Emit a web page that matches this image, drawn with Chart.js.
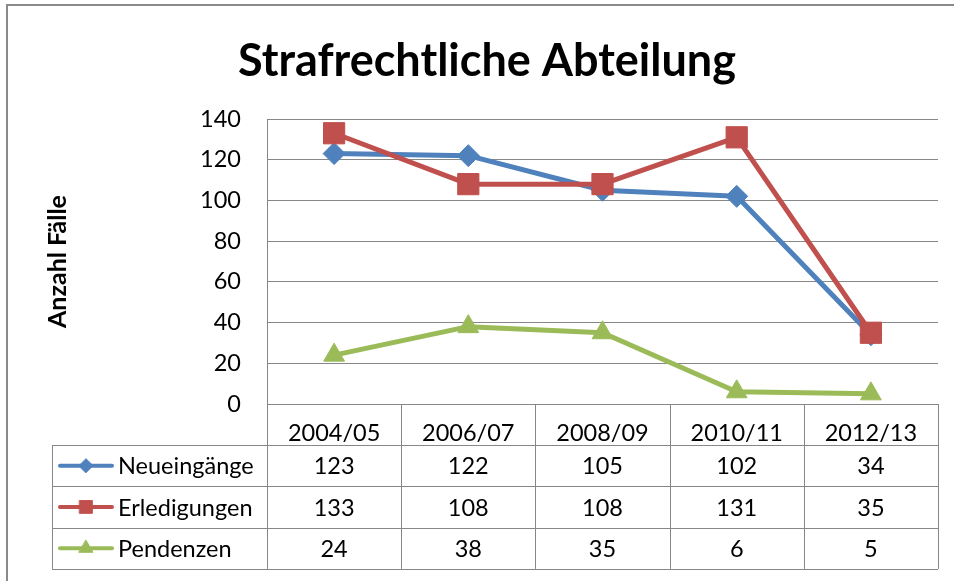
<!DOCTYPE html>
<html><head><meta charset="utf-8">
<script src="https://cdn.jsdelivr.net/npm/chart.js@4.4.0/dist/chart.umd.min.js"></script>
<style>html,body{margin:0;padding:0;background:#fff}#wrap{width:954px;height:581px;position:relative}canvas{display:block}</style>
</head><body><div id="wrap"><canvas id="c" width="954" height="581"></canvas></div>
<script>
// ---- data ----
const categories = ['2004/05', '2006/07', '2008/09', '2010/11', '2012/13'];
const seriesNames = ['Neueingänge', 'Erledigungen', 'Pendenzen'];
const neueingaenge = [123, 122, 105, 102, 34];
const erledigungen = [133, 108, 108, 131, 35];
const pendenzen = [24, 38, 35, 6, 5];
const yTicks = [0, 20, 40, 60, 80, 100, 120, 140];
const chartTitle = 'Strafrechtliche Abteilung';
const yTitle = 'Anzahl Fälle';

// ---- styles ----
const F = 'Lato, "Liberation Sans", sans-serif';
const FS = 23.5;
const GRID = '#878787';
const seriesValues = [neueingaenge, erledigungen, pendenzen];
const colors = ['#4F81BD', '#C0504D', '#9BBB59'];
const pStyles = ['rectRot', 'rect', 'triangle'];
const pRadii = [11, 15, 12];
const legendRadii = [7, 9, 8];
const ROW_H = 41.3;
const TABLE_LEFT = 52;

const tablePlugin = {
  id: 'dataTable',
  beforeDraw(chart) {
    const ctx = chart.ctx;
    ctx.save();
    ctx.strokeStyle = '#8a8a8a';
    ctx.lineWidth = 2;
    ctx.beginPath();
    ctx.moveTo(7, 581); ctx.lineTo(7, 5); ctx.lineTo(954, 5);
    ctx.stroke();
    // chart title
    ctx.fillStyle = '#000';
    ctx.font = 'bold 45px ' + F;
    ctx.textAlign = 'center';
    ctx.textBaseline = 'middle';
    ctx.fillText(chartTitle, 487, 61);
    ctx.restore();
  },
  afterDraw(chart) {
    const ctx = chart.ctx, xs = chart.scales.x, ca = chart.chartArea;
    const step = xs.getPixelForValue(1) - xs.getPixelForValue(0);
    const headBottom = xs.bottom;
    const nRows = seriesNames.length;
    const tableBottom = headBottom + nRows * ROW_H;
    ctx.save();
    ctx.strokeStyle = GRID;
    ctx.lineWidth = 1;
    ctx.beginPath();
    for (let k = 0; k <= categories.length; k++) {
      const x = Math.round(ca.left + k * step) + 0.5;
      ctx.moveTo(x, ca.bottom); ctx.lineTo(x, tableBottom);
    }
    ctx.moveTo(TABLE_LEFT + 0.5, headBottom); ctx.lineTo(TABLE_LEFT + 0.5, tableBottom);
    for (let r = 0; r <= nRows; r++) {
      const y = Math.round(headBottom + r * ROW_H) + 0.5;
      ctx.moveTo(TABLE_LEFT, y); ctx.lineTo(ca.right, y);
    }
    ctx.stroke();

    ctx.font = FS + 'px ' + F;
    ctx.fillStyle = '#000';
    ctx.textBaseline = 'middle';
    for (let r = 0; r < nRows; r++) {
      const yc = headBottom + (r + 0.5) * ROW_H;
      ctx.textAlign = 'center';
      seriesValues[r].forEach((v, i) => {
        ctx.fillText(String(v), xs.getPixelForValue(i), yc + 1);
      });
      // legend key
      ctx.strokeStyle = colors[r];
      ctx.lineWidth = 4;
      ctx.lineCap = 'round';
      ctx.beginPath(); ctx.moveTo(60, yc); ctx.lineTo(112, yc); ctx.stroke();
      ctx.fillStyle = colors[r];
      ctx.lineWidth = 1;
      Chart.helpers.drawPoint(ctx, {pointStyle: pStyles[r], radius: legendRadii[r], rotation: 0, borderWidth: 1}, 86, yc);
      ctx.fillStyle = '#000';
      ctx.textAlign = 'left';
      ctx.fillText(seriesNames[r], 118, yc + 1);
    }
    ctx.restore();
  }
};

const datasets = seriesNames.map((n, i) => ({
  label: n,
  data: seriesValues[i],
  borderColor: colors[i],
  backgroundColor: colors[i],
  borderWidth: 5,
  borderJoinStyle: 'round',
  pointStyle: pStyles[i],
  pointRadius: pRadii[i],
  pointBorderWidth: 1,
  pointBorderColor: colors[i],
  pointBackgroundColor: colors[i],
  order: 3 - i,
  tension: 0,
  clip: false
}));

new Chart(document.getElementById('c'), {
  type: 'line',
  data: { labels: categories, datasets },
  options: {
    responsive: false,
    animation: false,
    events: [],
    layout: { padding: { left: 0, right: 15, top: 119, bottom: 136 } },
    plugins: {
      legend: { display: false },
      tooltip: { enabled: false },
      title: { display: false }
    },
    scales: {
      x: {
        type: 'category', offset: true,
        grid: { display: false },
        border: { display: true, color: GRID, width: 1 },
        ticks: { color: '#000', font: { family: F, size: FS }, padding: 7, maxRotation: 0, autoSkip: false },
        afterFit: s => { s.height = 41; }
      },
      y: {
        min: 0, max: 140,
        afterBuildTicks: s => { s.ticks = yTicks.map(v => ({ value: v })); },
        grid: { color: GRID, lineWidth: 1, drawTicks: false },
        border: { display: true, color: GRID, width: 1 },
        ticks: { color: '#000', font: { family: F, size: FS }, padding: 26 },
        title: { display: true, text: yTitle, color: '#000', font: { family: F, size: 25, weight: 'bold' }, padding: { top: 43, bottom: 0 } },
        afterFit: s => { s.width = 267; }
      }
    }
  },
  plugins: [tablePlugin]
});
</script>
</body></html>
